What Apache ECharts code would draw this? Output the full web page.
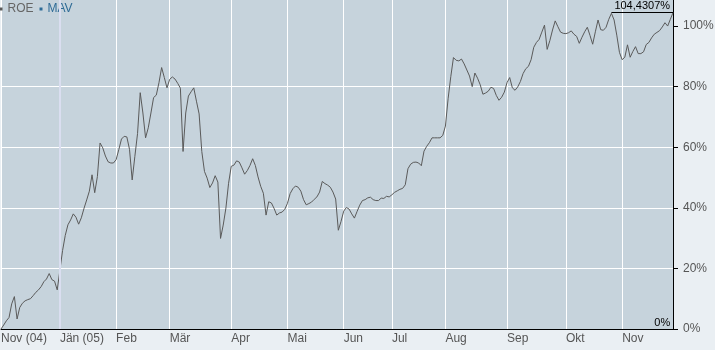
<!DOCTYPE html>
<html>
<head>
<meta charset="utf-8">
<script src="https://cdn.jsdelivr.net/npm/echarts@6/dist/echarts.min.js"></script>
<style>
html,body{margin:0;padding:0;background:#eaeff3;}
#chart{width:715px;height:350px;}
</style>
</head>
<body>
<div id="chart"></div>
<script>
const monthLabels = ['Nov (04)','Jän (05)','Feb','Mär','Apr','Mai','Jun','Jul','Aug','Sep','Okt','Nov'];
const monthDays = [22,21,20,23,21,21,18,20,23,22,21,20];
const yTicks = [0,20,40,60,80,100];
const roe = [
0.0,1.3,2.7,3.8,8.3,10.7,3.3,7.1,8.5,9.3,9.7,10.0,11.0,12.1,12.9,14.0,15.6,16.5,18.3,16.3,15.8,12.9,
19.4,25.9,30.9,34.4,36.0,38.0,36.9,34.6,36.7,39.8,42.6,45.5,50.9,45.0,50.3,61.4,59.8,57.1,55.2,54.8,54.8,
55.9,59.2,62.7,63.6,63.4,59.3,49.2,57.0,64.5,78.0,71.3,63.1,66.4,71.3,76.4,77.2,81.3,86.3,83.0,79.6,
82.4,83.2,82.5,81.1,79.5,58.6,71.3,76.9,78.3,79.6,75.2,71.0,58.6,52.0,49.8,46.7,48.2,50.6,48.5,29.9,34.3,39.9,48.1,
53.7,54.1,55.5,55.1,53.2,51.1,52.3,54.0,56.2,54.0,50.2,47.1,44.8,37.6,42.0,41.6,39.8,37.6,38.3,38.6,39.5,
41.5,44.7,46.3,47.2,46.8,45.5,42.7,41.0,41.4,41.9,42.8,43.6,45.2,48.7,48.0,47.5,46.8,45.2,42.9,32.6,35.5,
38.9,40.1,39.6,38.0,36.6,38.8,40.9,42.4,42.7,43.3,43.5,42.7,42.4,42.4,43.2,43.1,43.8,43.6,
44.3,45.1,45.6,46.1,46.4,47.6,52.9,54.4,55.0,55.1,54.8,53.9,58.7,60.3,61.5,63.1,63.1,63.1,63.1,63.9,
67.0,76.0,83.3,89.6,88.7,88.5,89.1,87.5,85.5,83.5,80.0,84.5,82.8,80.6,77.5,77.9,78.5,79.8,79.4,77.1,75.5,76.5,78.2,
81.3,83.0,79.6,78.8,79.9,81.7,84.3,85.9,86.7,88.9,93.0,94.6,95.6,98.0,100.3,92.3,95.2,98.7,101.7,99.8,98.0,97.6,
97.5,97.8,98.4,97.3,96.6,94.3,96.3,98.1,99.6,96.9,94.0,98.1,102.0,98.8,98.6,99.6,102.2,104.2,102.0,97.0,91.3,
88.9,89.7,93.8,89.7,91.6,93.2,90.9,90.9,91.5,93.9,94.6,96.1,97.3,97.9,98.5,99.7,101.1,100.0,102.2,104.4307
];

const categories = [];
monthLabels.forEach((m, k) => { for (let d = 0; d < monthDays[k]; d++) categories.push(m + '|' + d); });
const isMonthStart = v => /\|0$/.test(v);
const janKey = monthLabels[1] + '|0';
const lastIdx = roe.length - 1;
const lastVal = roe[lastIdx];
const minVal = Math.min.apply(null, roe);
const fmt = v => (v === Math.round(v) ? String(v) : v.toFixed(4).replace('.', ',')) + '%';
const FONT = 'Liberation Sans, Arial, sans-serif';

const chart = echarts.init(document.getElementById('chart'), null, {renderer: 'canvas'});
chart.setOption({
  animation: false,
  backgroundColor: '#eaeff3',
  textStyle: {fontFamily: FONT},
  grid: {left: 1, right: 42, top: 0, bottom: 21, show: true, backgroundColor: '#c6d3dc', borderWidth: 0, containLabel: false, outerBoundsMode: 'none'},
  legend: {
    left: -0.5, top: 3, padding: 0, icon: 'rect', itemWidth: 3, itemHeight: 3, itemGap: 6, selectedMode: false,
    textStyle: {fontSize: 12, fontFamily: FONT},
    data: [{name: 'ROE', textStyle: {color: '#666'}}, {name: 'MAV', textStyle: {color: '#2e6b96'}}]
  },
  xAxis: {
    type: 'category', data: categories, boundaryGap: false,
    axisLine: {show: true, lineStyle: {color: '#000', width: 1}},
    axisTick: {show: false},
    axisLabel: {
      interval: (i, v) => isMonthStart(v),
      formatter: v => v.split('|')[0],
      align: 'left', margin: 4, color: '#555', fontSize: 12, fontFamily: FONT
    },
    splitLine: {show: true, interval: (i, v) => isMonthStart(v) && v !== janKey, lineStyle: {color: '#ffffff', width: 1}}
  },
  yAxis: {
    type: 'value', position: 'right', min: 0, max: 108.6, interval: 20,
    axisLine: {show: true, lineStyle: {color: '#000', width: 1}},
    axisTick: {show: true, length: 5, lineStyle: {color: '#000'}, customValues: yTicks},
    axisLabel: {customValues: yTicks, formatter: '{value}%', color: '#555', fontSize: 12, margin: 10, fontFamily: FONT},
    splitLine: {show: true, showMaxLine: false, lineStyle: {color: '#ffffff', width: 1}}
  },
  series: [
    {
      name: 'grid-year', type: 'line', data: [], z: 1, silent: true,
      markLine: {symbol: 'none', silent: true, animation: false,
        data: [{xAxis: janKey, lineStyle: {color: '#dadef0', width: 2, type: 'solid'}, label: {show: false}}]}
    },
    {
      name: 'ROE', type: 'line', data: roe, z: 3, showSymbol: false, symbol: 'none', color: '#5a5a5a',
      lineStyle: {color: '#5a5a5a', width: 1},
      markLine: {
        symbol: 'none', silent: true, animation: false,
        data: [
          [
            {coord: [categories[228], lastVal], lineStyle: {color: '#000', width: 1, type: 'solid'},
             label: {show: true, position: 'insideMiddleTop', formatter: fmt(lastVal), color: '#000', fontSize: 11, distance: 1, fontFamily: FONT}},
            {coord: [categories[lastIdx], lastVal]}
          ],
          [
            {coord: [categories[243], minVal], lineStyle: {color: '#000', width: 1, type: 'solid'},
             label: {show: true, position: 'insideMiddleTop', formatter: fmt(minVal), color: '#000', fontSize: 11, distance: 1, fontFamily: FONT}},
            {coord: [categories[lastIdx], minVal]}
          ]
        ]
      }
    },
    {name: 'MAV', type: 'line', data: [], color: '#2e6b96'}
  ]
});
</script>
</body>
</html>
